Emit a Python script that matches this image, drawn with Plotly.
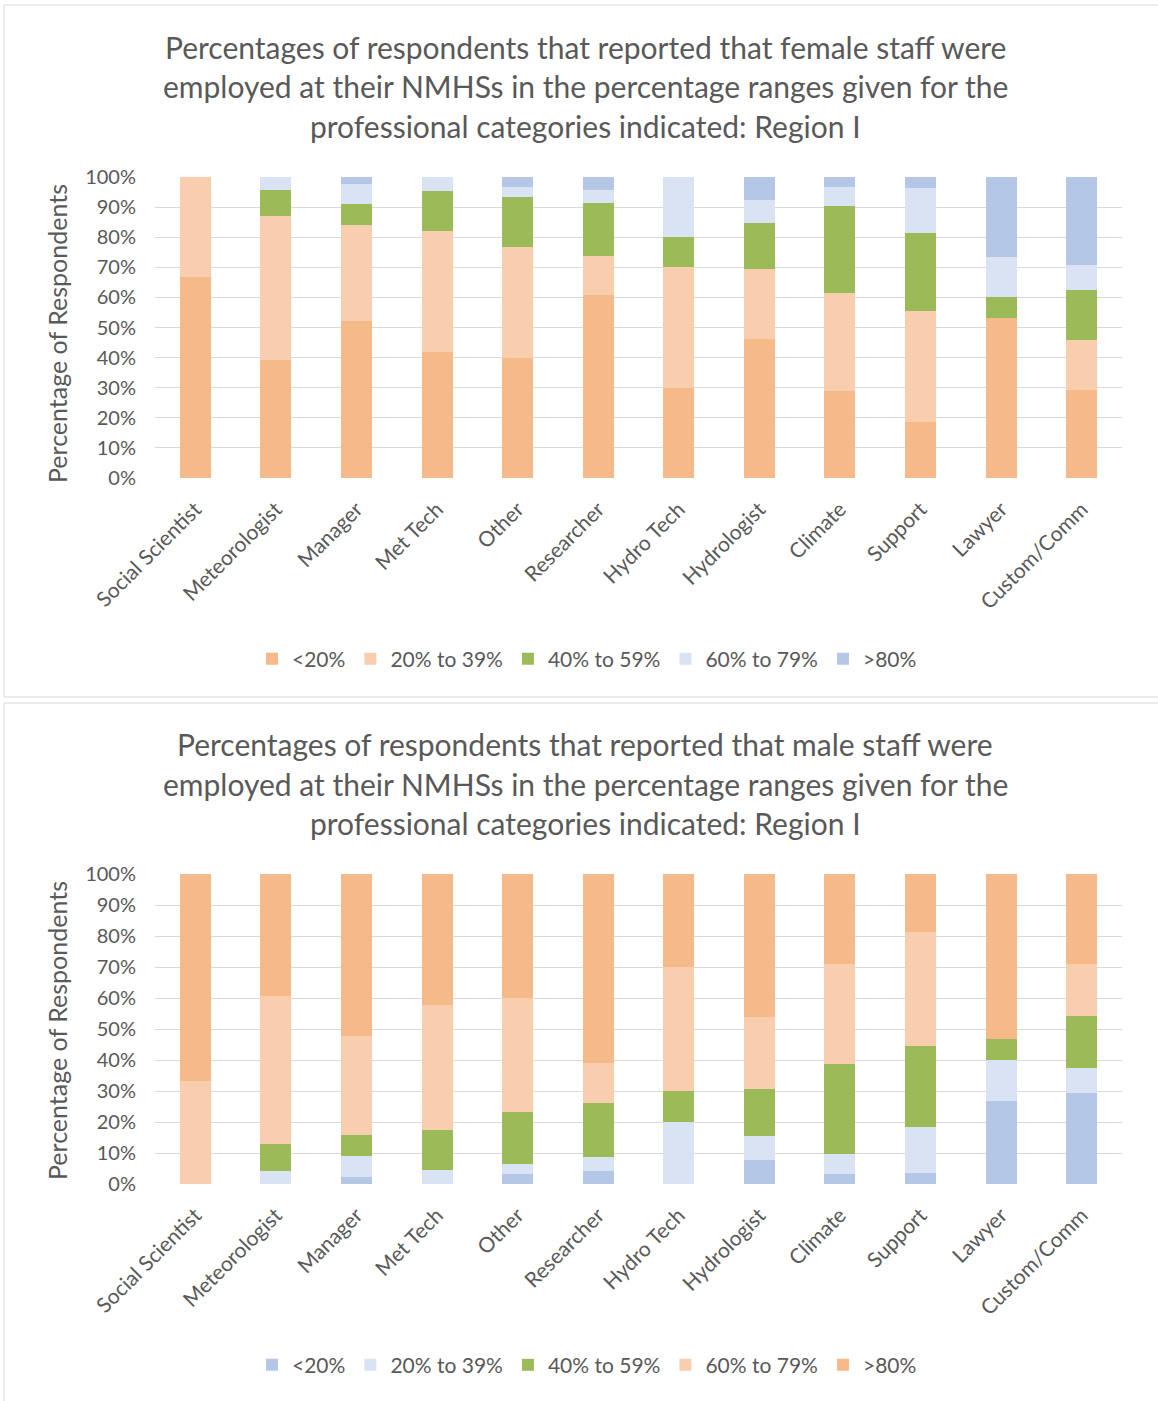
import plotly.graph_objects as go

# Professional categories shown on both charts
CATEGORIES = ["Social Scientist", "Meteorologist", "Manager", "Met Tech", "Other",
              "Researcher", "Hydro Tech", "Hydrologist", "Climate", "Support",
              "Lawyer", "Custom/Comm"]

RANGE_LABELS = ["<20%", "20% to 39%", "40% to 59%", "60% to 79%", ">80%"]
Y_TICKS = [0, 10, 20, 30, 40, 50, 60, 70, 80, 90, 100]
Y_TICK_LABELS = ["0%", "10%", "20%", "30%", "40%", "50%", "60%", "70%", "80%", "90%", "100%"]

# Female staff: share of respondents (%) per reported percentage range
FEMALE_LT20 = [66.7, 39.1, 52.3, 42.0, 40.0, 60.9, 30.0, 46.2, 29.0, 18.5, 53.3, 29.2]
FEMALE_20_39 = [33.3, 47.8, 31.8, 40.0, 36.7, 13.0, 40.0, 23.1, 32.3, 37.0, 0.0, 16.7]
FEMALE_40_59 = [0.0, 8.7, 6.8, 13.5, 16.7, 17.4, 10.0, 15.4, 29.0, 25.9, 6.7, 16.7]
FEMALE_60_79 = [0.0, 4.3, 6.8, 4.5, 3.3, 4.3, 20.0, 7.7, 6.5, 14.8, 13.3, 8.3]
FEMALE_GT80 = [0.0, 0.0, 2.3, 0.0, 3.3, 4.3, 0.0, 7.7, 3.2, 3.7, 26.7, 29.2]

# Male staff: share of respondents (%) per reported percentage range
MALE_LT20 = [0.0, 0.0, 2.3, 0.0, 3.3, 4.3, 0.0, 7.7, 3.2, 3.7, 26.7, 29.2]
MALE_20_39 = [0.0, 4.3, 6.8, 4.5, 3.3, 4.3, 20.0, 7.7, 6.5, 14.8, 13.3, 8.3]
MALE_40_59 = [0.0, 8.7, 6.8, 13.0, 16.7, 17.4, 10.0, 15.4, 29.0, 25.9, 6.7, 16.7]
MALE_60_79 = [33.3, 47.8, 31.8, 40.1, 36.7, 13.0, 40.0, 23.1, 32.3, 37.0, 0.0, 16.7]
MALE_GT80 = [66.7, 39.1, 52.3, 42.4, 40.0, 60.9, 30.0, 46.2, 29.0, 18.5, 53.3, 29.2]

TITLE_FEMALE = ["Percentages of respondents that reported that female staff were",
                "employed at their NMHSs in the percentage ranges given for the",
                "professional categories indicated: Region I"]
TITLE_MALE = ["Percentages of respondents that reported that male staff were",
              "employed at their NMHSs in the percentage ranges given for the",
              "professional categories indicated: Region I"]
Y_TITLE = "Percentage of Respondents"

ORANGE = "#F6BA8A"
LIGHT_ORANGE = "#F9CEAF"
GREEN = "#9BBB59"
LIGHT_BLUE = "#DAE3F3"
BLUE = "#B4C7E7"
TEXT = "#595959"
GRID = "#D9D9D9"
FONT = "Lato"

W, H = 1158, 1401

female_series = [FEMALE_LT20, FEMALE_20_39, FEMALE_40_59, FEMALE_60_79, FEMALE_GT80]
female_colors = [ORANGE, LIGHT_ORANGE, GREEN, LIGHT_BLUE, BLUE]
male_series = [MALE_LT20, MALE_20_39, MALE_40_59, MALE_60_79, MALE_GT80]
male_colors = [BLUE, LIGHT_BLUE, GREEN, LIGHT_ORANGE, ORANGE]

fig = go.Figure()

for label, vals, col in zip(RANGE_LABELS, female_series, female_colors):
    fig.add_trace(go.Bar(x=CATEGORIES, y=vals, name=label, marker_color=col,
                         marker_line_width=0, xaxis="x", yaxis="y", legend="legend"))

for label, vals, col in zip(RANGE_LABELS, male_series, male_colors):
    fig.add_trace(go.Bar(x=CATEGORIES, y=vals, name=label, marker_color=col,
                         marker_line_width=0, xaxis="x2", yaxis="y2", legend="legend2"))


def px_y(py):
    return 1 - py / H


def px_x(px):
    return px / W


x_dom = [px_x(155), px_x(1122)]

axis_x = dict(domain=x_dom, tickangle=-45, showgrid=False, showline=False, ticks="",
              tickfont=dict(family=FONT, size=21, color=TEXT), ticklabelstandoff=14,
              categoryorder="array", categoryarray=CATEGORIES, fixedrange=True,
              automargin=False)
axis_y = dict(range=[0, 100], tickvals=Y_TICKS, ticktext=Y_TICK_LABELS, showgrid=True,
              gridcolor=GRID, gridwidth=1, zeroline=False, showline=False, ticks="",
              tickfont=dict(family=FONT, size=20, color=TEXT), ticklabelstandoff=18,
              fixedrange=True, automargin=False)

legend_common = dict(orientation="h", xanchor="center", yanchor="middle",
                     font=dict(family=FONT, size=21, color=TEXT), traceorder="normal",
                     itemwidth=30, bgcolor="rgba(0,0,0,0)", itemclick=False)

annotations = []
for i, line in enumerate(TITLE_FEMALE):
    annotations.append(dict(text=line, x=px_x(585), y=px_y(47 + 39.5 * i), xref="paper", yref="paper",
                            showarrow=False, xanchor="center", yanchor="middle",
                            font=dict(family=FONT, size=30, color=TEXT)))
for i, line in enumerate(TITLE_MALE):
    annotations.append(dict(text=line, x=px_x(585), y=px_y(744 + 39.5 * i), xref="paper", yref="paper",
                            showarrow=False, xanchor="center", yanchor="middle",
                            font=dict(family=FONT, size=30, color=TEXT)))
for cy in (334, 1031):
    annotations.append(dict(text=Y_TITLE, x=px_x(57), y=px_y(cy), xref="paper", yref="paper",
                            showarrow=False, textangle=-90, xanchor="center", yanchor="middle",
                            font=dict(family=FONT, size=25, color=TEXT)))

# Chart frames
shapes = [
    dict(type="rect", xref="paper", yref="paper", x0=px_x(4), x1=px_x(1160),
         y0=px_y(697), y1=px_y(5), line=dict(color="#D9D9D9", width=1)),
    dict(type="rect", xref="paper", yref="paper", x0=px_x(4), x1=px_x(1160),
         y0=px_y(1402), y1=px_y(703), line=dict(color="#D9D9D9", width=1)),
]

fig.update_layout(
    width=W, height=H, margin=dict(l=0, r=0, t=0, b=0, autoexpand=False),
    paper_bgcolor="white", plot_bgcolor="white",
    barmode="stack", bargap=0.615,
    font=dict(family=FONT, color=TEXT),
    xaxis=dict(**axis_x, anchor="y"),
    yaxis=dict(**axis_y, domain=[px_y(478), px_y(177)], anchor="x"),
    xaxis2=dict(**axis_x, anchor="y2"),
    yaxis2=dict(**axis_y, domain=[px_y(1184), px_y(874)], anchor="x2"),
    legend=dict(**legend_common, x=px_x(587), y=px_y(659)),
    legend2=dict(**legend_common, x=px_x(587), y=px_y(1365)),
    annotations=annotations, shapes=shapes, hovermode=False,
)

fig.write_html("out.html")
